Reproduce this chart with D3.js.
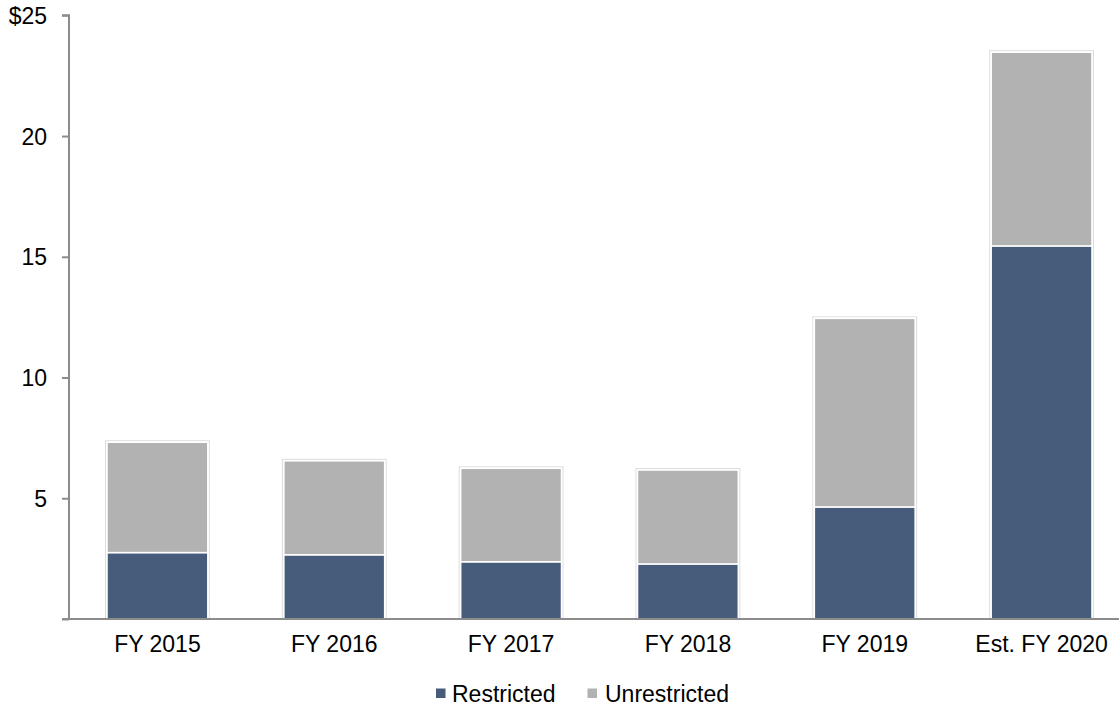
<!DOCTYPE html>
<html><head><meta charset="utf-8">
<script src="https://cdn.jsdelivr.net/npm/d3@7"></script>
<style>
html,body{margin:0;padding:0;background:#fff;}
svg{display:block;font-family:"Liberation Sans",Arial,sans-serif;}
</style></head>
<body><svg id="chart" width="1119" height="708"></svg>
<script>
const categories = ["FY 2015","FY 2016","FY 2017","FY 2018","FY 2019","Est. FY 2020"];
const restricted = [2.75, 2.66, 2.37, 2.28, 4.64, 15.45];
const unrestricted = [4.57, 3.89, 3.87, 3.89, 7.81, 8.02];
const yTicks = [5, 10, 15, 20, 25];
const seriesNames = ["Restricted","Unrestricted"];
const colors = ["#475C7A","#B2B2B2"];

const svg = d3.select("#chart");
const x0 = 69, x1 = 1130, yBase = 619, yTop = 15.3;
const x = d3.scaleBand().domain(categories).range([x0, x1]).paddingInner(0.43).paddingOuter(0.215);
const y = d3.scaleLinear().domain([0, 25]).range([yBase, yTop]);

const rows = categories.map((c,i)=>({cat:c, Restricted:restricted[i], Unrestricted:unrestricted[i]}));
const stack = d3.stack().keys(seriesNames)(rows);

svg.append("g").selectAll("rect").data(rows).join("rect")
  .attr("x", d=>x(d.cat)-1.5)
  .attr("y", d=>y(d.Restricted+d.Unrestricted)-1.5)
  .attr("width", x.bandwidth()+3)
  .attr("height", d=>yBase - y(d.Restricted+d.Unrestricted)+1.5)
  .attr("fill","none").attr("stroke","#dcdcdc").attr("stroke-width",1);

stack.forEach((s,si)=>{
  svg.append("g").selectAll("rect").data(s).join("rect")
    .attr("x", d=>x(d.data.cat))
    .attr("y", d=>y(d[1]))
    .attr("width", x.bandwidth())
    .attr("height", d=>y(d[0])-y(d[1]))
    .attr("fill", colors[si])
    .attr("stroke","#fff").attr("stroke-width",1.5);
});

const yAxis = d3.axisLeft(y).tickValues([0, ...yTicks]).tickSize(7).tickPadding(15)
  .tickFormat(d=> d===0 ? "" : (d===25 ? "$25" : String(d)));
const gy = svg.append("g").attr("transform",`translate(${x0},0)`).call(yAxis);
gy.select(".domain").attr("stroke","#8c8c8c").attr("stroke-width",2).attr("d",`M-7,${yTop}H0V${yBase}`);
gy.selectAll(".tick line").attr("stroke","#8c8c8c").attr("stroke-width",2);
gy.selectAll(".tick text").attr("fill","#000").style("font-size","23px")
  .style("font-family","'Liberation Sans',Arial,sans-serif").attr("dy","0.35em");

const xAxis = d3.axisBottom(x).tickSize(0).tickPadding(17);
const gx = svg.append("g").attr("transform",`translate(0,${yBase})`).call(xAxis);
gx.select(".domain").attr("stroke","#8c8c8c").attr("stroke-width",2).attr("d",`M${x0-7},0H1119`);
gx.selectAll(".tick text").attr("fill","#000").style("font-size","23px")
  .style("font-family","'Liberation Sans',Arial,sans-serif");

const legendItems = [{name:"Restricted", sx:436, tx:452},{name:"Unrestricted", sx:587.5, tx:605}];
const lg = svg.append("g");
legendItems.forEach((it,i)=>{
  lg.append("rect").attr("x",it.sx).attr("y",688.5).attr("width",9.5).attr("height",9.5).attr("fill",colors[i]);
  lg.append("text").attr("x",it.tx).attr("y",701.5).text(it.name)
    .style("font-size","23px").attr("fill","#000");
});
</script></body></html>
